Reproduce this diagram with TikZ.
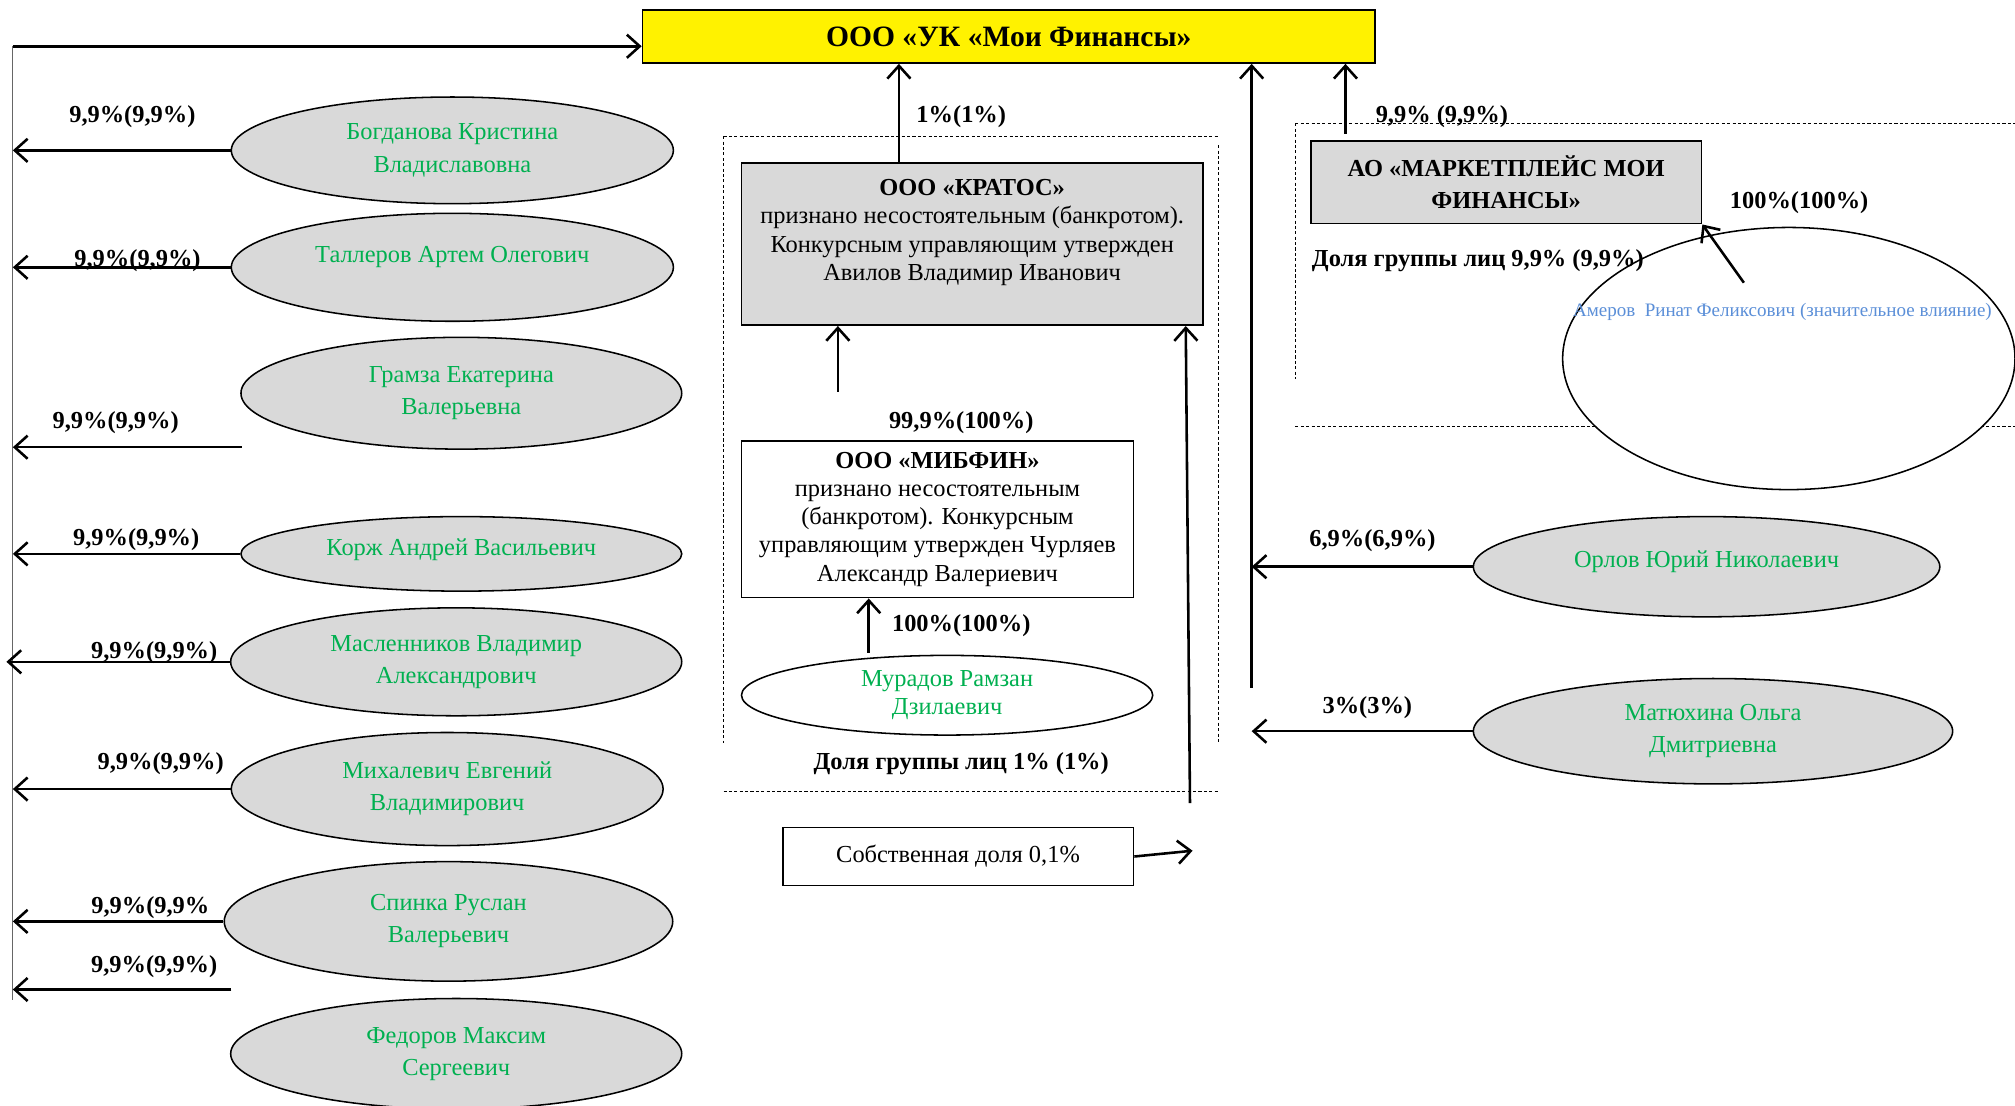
\documentclass[tikz,border=0pt]{standalone}
\usepackage{fontspec}
\setmainfont{Liberation Serif}
\usetikzlibrary{shapes.geometric,arrows.meta,calc}
\definecolor{pgreen}{HTML}{00B050}
\definecolor{pblue}{HTML}{5B8FD8}
\definecolor{pgray}{HTML}{D9D9D9}
\begin{document}
\begin{tikzpicture}[x=0.5pt,y=-0.5pt,
  person/.style={ellipse,draw=black,line width=0.6pt,fill=pgray,text=pgreen,align=center,inner sep=0pt,font=\fontsize{9.5}{12.5}\selectfont},
  wperson/.style={person,fill=white},
  orgbox/.style={rectangle,draw=black,line width=0.7pt,align=center,inner sep=0pt,font=\fontsize{9.5}{11}\selectfont},
  pct/.style={inner sep=0pt,font=\bfseries\fontsize{9.5}{11}\selectfont},
  arr/.style={line width=1pt,-{Straight Barb[length=5pt,width=9pt]}},
  grpline/.style={line width=0.4pt,dash pattern=on 1.2pt off 0.9pt},
  spine/.style={line width=0.5pt,draw=black!60}]
\useasboundingbox (0,0) rectangle (1568,860);

% ---------- group outlines ----------
\draw[grpline] (563,106) -- (948,106);
\draw[grpline] (563,106) -- (563,578);
\draw[grpline] (948,113) -- (948,578);
\draw[grpline] (563,616) -- (948,616);
\draw[grpline] (1008,96) -- (1568,96);
\draw[grpline] (1008,96) -- (1008,295);
\draw[grpline] (1008,332) -- (1568,332);

% ---------- main company ----------
\node[orgbox,fill=yellow,minimum width=285pt,minimum height=20.5pt,font=\bfseries\fontsize{11.5}{13}\selectfont] (title) at (785,28.5) {ООО «УК «Мои Финансы»};

% ---------- left column ----------
\node[person,minimum width=172pt,minimum height=41.5pt] (bog) at (352,117) {Богданова Кристина\\Владиславовна};
\node[person,minimum width=172pt,minimum height=42pt,text height=7pt,text depth=10.6pt] (tal) at (352,208) {Таллеров Артем Олегович};
\node[person,minimum width=171.5pt,minimum height=43.5pt] (gram) at (359,306) {Грамза Екатерина\\Валерьевна};
\node[person,minimum width=171.5pt,minimum height=29pt,text height=7pt,text depth=5.6pt] (korzh) at (359,431) {Корж Андрей Васильевич};
\node[person,minimum width=175.5pt,minimum height=42pt] (masl) at (355,515) {Масленников Владимир\\Александрович};
\node[person,minimum width=168pt,minimum height=44pt] (mih) at (348,614) {Михалевич Евгений\\Владимирович};
\node[person,minimum width=174.5pt,minimum height=46.5pt] (spin) at (349,717) {Спинка Руслан\\Валерьевич};
\node[person,minimum width=175.5pt,minimum height=43pt] (fed) at (355,820) {Федоров Максим\\Сергеевич};

\coordinate (vtop) at (10,36);
\coordinate (vbot) at (10,778);
\coordinate (gramarr) at (188,348);
\coordinate (maslend) at (5,516);
\coordinate (lastarr) at (180,770);

\draw[spine] (vtop) -- (vbot);
\draw[arr] (vtop) -- (vtop -| title.west);
\draw[arr] (bog.west) -- (bog.west -| vtop);
\draw[arr] (tal.west) -- (tal.west -| vtop);
\draw[arr] (gramarr) -- (gramarr -| vtop);
\draw[arr] (korzh.west) -- (korzh.west -| vtop);
\draw[arr] (masl.west) -- (masl.west -| maslend);
\draw[arr] (mih.west) -- (mih.west -| vtop);
\draw[arr] (spin.west) -- (spin.west -| vtop);
\draw[arr] (lastarr) -- (lastarr -| vtop);

\node[pct] (p1) at (103,91) {9,9\%(9,9\%)};
\node[pct] (p2) at (107,203) {9,9\%(9,9\%)};
\node[pct] (p3) at (90,329) {9,9\%(9,9\%)};
\node[pct] (p4) at (106,420) {9,9\%(9,9\%)};
\node[pct] (p5) at (120,508) {9,9\%(9,9\%)};
\node[pct] (p6) at (125,594) {9,9\%(9,9\%)};
\node[pct] (p7) at (117,706) {9,9\%(9,9\%};
\node[pct] (p8) at (120,752) {9,9\%(9,9\%)};

% ---------- middle group ----------
\node[orgbox,fill=pgray,minimum width=179.5pt,minimum height=63pt] (kratos) at (756.5,190) {\textbf{ООО «КРАТОС»}\\признано несостоятельным (банкротом).\\Конкурсным управляющим утвержден\\Авилов Владимир Иванович\\\mbox{}};
\node[orgbox,fill=white,minimum width=152.5pt,minimum height=61pt] (mibfin) at (729.5,404) {\textbf{ООО «МИБФИН»}\\признано несостоятельным\\(банкротом). Конкурсным\\управляющим утвержден Чурляев\\Александр Валериевич};
\node[wperson,minimum width=160pt,minimum height=31pt,font=\fontsize{9.5}{11}\selectfont] (mur) at (737,541) {Мурадов Рамзан\\Дзилаевич};
\node[orgbox,fill=white,minimum width=136.5pt,minimum height=22.5pt] (sobst) at (745.5,666.5) {Собственная доля 0,1\%};

\coordinate (k1) at ($(kratos.north)+(-57,0)$);
\coordinate (c99) at (652,305);
\coordinate (c100) at (676,508);
\coordinate (lowend) at (926,625);
\coordinate (krin) at ($(kratos.south east)+(-14,0)$);
\coordinate (sobstend) at (928,662);

\draw[arr] (k1) -- (k1 |- title.south);
\draw[arr] (c99) -- (c99 |- kratos.south);
\draw[arr] (c100) -- (c100 |- mibfin.south);
\draw[arr] (lowend) -- (krin);
\draw[arr] (sobst.east) -- (sobstend);

\node[pct] (pk) at (748,91) {1\%(1\%)};
\node[pct] (pm) at (748,329) {99,9\%(100\%)};
\node[pct] (pr) at (748,487) {100\%(100\%)};
\node[pct] (g1) at (748,594) {Доля группы лиц 1\% (1\%)};

% ---------- right side ----------
\node[orgbox,fill=pgray,minimum width=152pt,minimum height=32pt,font=\bfseries\fontsize{9.5}{12.5}\selectfont] (market) at (1172,142) {АО «МАРКЕТПЛЕЙС МОИ\\ФИНАНСЫ»};
\node[wperson,minimum width=176pt,minimum height=102pt] (amer) at (1392,279) {};
\node[inner sep=0pt,text=pblue,font=\fontsize{7.4}{9}\selectfont] (amertxt) at (1387,243) {Амеров\ \ Ринат Феликсович (значительное влияние)};
\node[person,minimum width=181.5pt,minimum height=39pt,text height=7pt,text depth=6.6pt] (orl) at (1328,441) {Орлов Юрий Николаевич};
\node[person,minimum width=186.5pt,minimum height=41pt] (mat) at (1333,569) {Матюхина Ольга\\Дмитриевна};

\coordinate (rv) at (974,535);
\coordinate (mk) at (1047,104);
\coordinate (am) at (1357,220);

\draw[arr] (rv) -- (rv |- title.south);
\draw[arr] (orl.west) -- (orl.west -| rv);
\draw[arr] (mat.west) -- (mat.west -| rv);
\draw[arr] (mk) -- (mk |- title.south);
\draw[arr] (am) -- (market.south east);

\node[pct] (pmk) at (1122,91) {9,9\% (9,9\%)};
\node[pct] (g2) at (1150,203) {Доля группы лиц 9,9\% (9,9\%)};
\node[pct] (pam) at (1400,158) {100\%(100\%)};
\node[pct] (porl) at (1068,421) {6,9\%(6,9\%)};
\node[pct] (pmat) at (1064,551) {3\%(3\%)};
\end{tikzpicture}
\end{document}
